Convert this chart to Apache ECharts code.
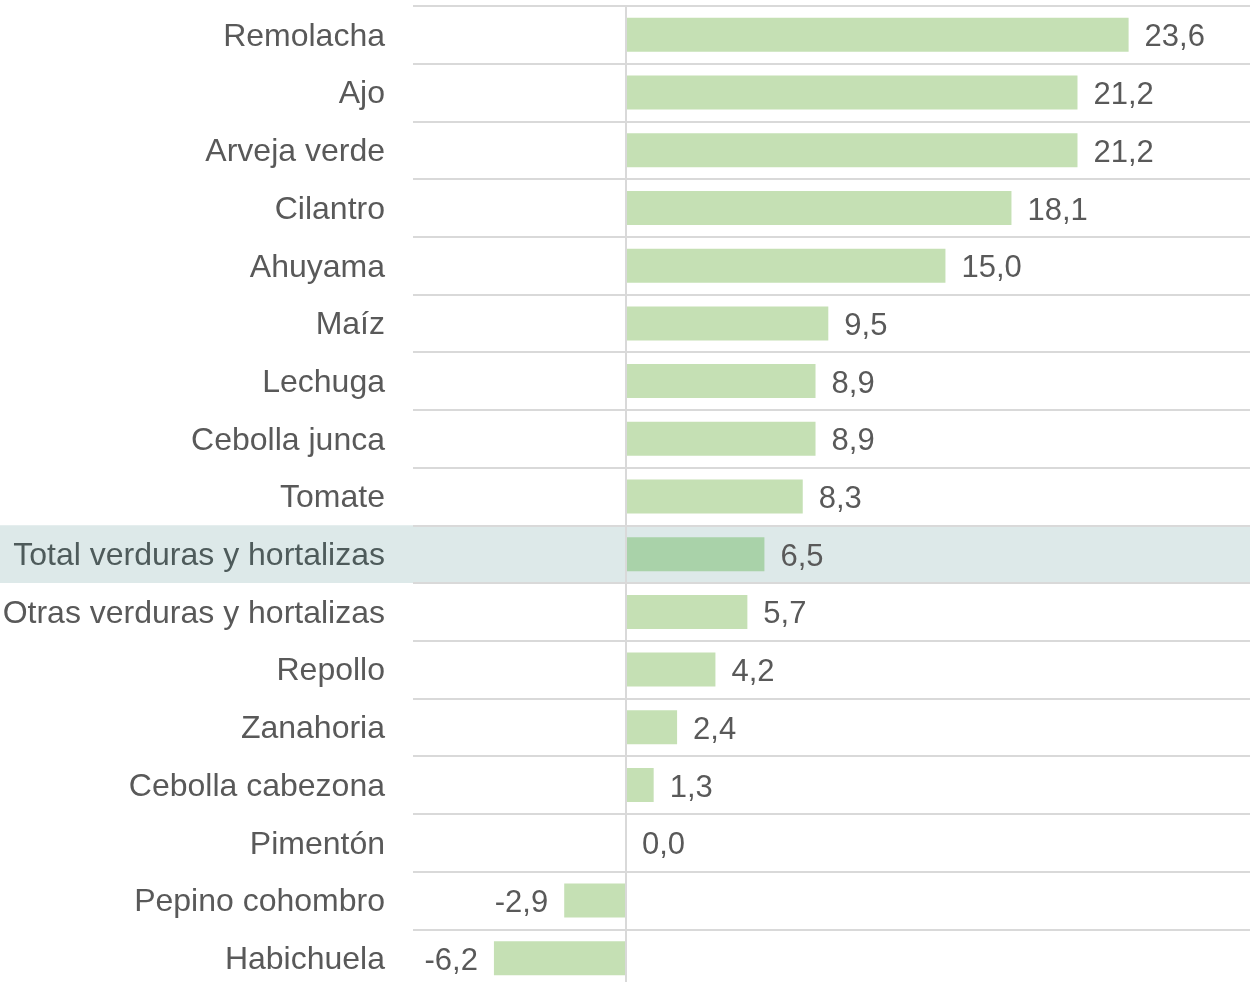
<!DOCTYPE html>
<html>
<head>
<meta charset="utf-8">
<title>Variación verduras y hortalizas</title>
<script src="https://cdn.jsdelivr.net/npm/echarts@6/dist/echarts.min.js"></script>
<style>
  html, body { margin: 0; padding: 0; background: #fff; }
  #main { width: 1251px; height: 982px; }
</style>
</head>
<body>
<div id="main"></div>
<script>
// datos
var categorias = ['Remolacha', 'Ajo', 'Arveja verde', 'Cilantro', 'Ahuyama', 'Maíz', 'Lechuga',
  'Cebolla junca', 'Tomate', 'Total verduras y hortalizas', 'Otras verduras y hortalizas',
  'Repollo', 'Zanahoria', 'Cebolla cabezona', 'Pimentón', 'Pepino cohombro', 'Habichuela'];
var valores = [23.6, 21.2, 21.2, 18.1, 15.0, 9.5, 8.9, 8.9, 8.3, 6.5, 5.7, 4.2, 2.4, 1.3, 0.0, -2.9, -6.2];
var totalNombre = 'Total verduras y hortalizas';

var fmt = function (v) { return v.toFixed(1).replace('.', ','); };
var fuente = 'Liberation Sans, Arial, sans-serif';

var chart = echarts.init(document.getElementById('main'));

var datos = valores.map(function (v, i) {
  var esTotal = categorias[i] === totalNombre;
  return {
    value: v,
    itemStyle: { color: esTotal ? '#a9d2a9' : '#c5e0b4' },
    label: { position: v < 0 ? 'left' : 'right' }
  };
});

var altoGrid = 981;

var option = {
  animation: false,
  grid: { left: 413, right: 1, top: 6, height: altoGrid, containLabel: false, outerBoundsMode: 'none' },
  xAxis: {
    type: 'value',
    min: -10,
    max: 29.3,
    show: false
  },
  yAxis: {
    type: 'category',
    inverse: true,
    data: categorias,
    axisTick: { show: false },
    axisLine: { show: true, onZero: true, lineStyle: { color: '#d9d9d9', width: 2 } },
    splitLine: { show: true, lineStyle: { color: '#d9d9d9', width: 2 } },
    axisLabel: {
      margin: 28,
      fontFamily: fuente,
      fontSize: 32,
      color: '#595959',
      padding: [4, 0, 0, 0],
      formatter: function (v) {
        return v === totalNombre ? '{t|' + v + '}' : v;
      },
      rich: {
        t: { fontFamily: fuente, fontSize: 32, color: '#4e5b5b' }
      }
    },
    z: 3
  },
  series: [{
    type: 'bar',
    data: datos,
    barWidth: 34,
    label: {
      show: true,
      distance: 16,
      fontFamily: fuente,
      fontSize: 31,
      color: '#595959',
      offset: [0, 3],
      formatter: function (p) { return fmt(p.value); }
    },
    z: 2
  }]
};

chart.setOption(option);

// banda de resaltado para el total
var idx = categorias.indexOf(totalNombre);
var yc = chart.convertToPixel({ yAxisIndex: 0 }, idx);
var paso = altoGrid / categorias.length;
chart.setOption({
  graphic: [{
    type: 'rect',
    z: 0,
    silent: true,
    shape: { x: 0, y: yc - paso / 2, width: 1250, height: paso },
    style: { fill: '#dde9e9' }
  }]
});
</script>
</body>
</html>
